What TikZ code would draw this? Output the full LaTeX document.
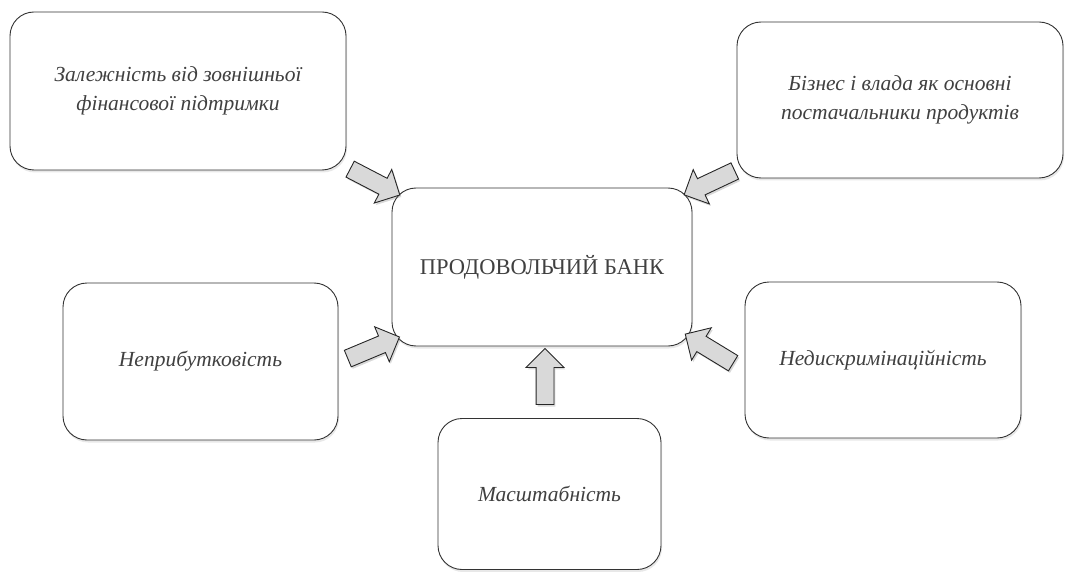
\documentclass[tikz,border=0pt]{standalone}
\usepackage{fontspec}
\setmainfont{Liberation Serif}
\usetikzlibrary{shapes.arrows,shadows}

\tikzset{
    boxnode/.style={draw=black!80, line width=0.9pt, rounded corners=24pt, fill=white,
        drop shadow={opacity=0.18, shadow xshift=1pt, shadow yshift=-2.5pt},
        align=center, text=black!75, font=\fontsize{21.5}{29}\selectfont\itshape},
    blockarrow/.style={single arrow, draw=black!85, line width=0.9pt, fill=gray!30,
        minimum height=56pt, single arrow head extend=10pt,
        inner xsep=0pt, inner ysep=8.5pt,
        drop shadow={opacity=0.3, shadow xshift=1.5pt, shadow yshift=-2pt}}
}

\begin{document}
\begin{tikzpicture}[x=1pt,y=-1pt]
            \useasboundingbox (0,0) rectangle (1065,572);

            \node[boxnode, minimum width=336pt, minimum height=158pt] (dep) at (178,91)
                {Залежність від зовнішньої\\фінансової підтримки};
            \node[boxnode, minimum width=326pt, minimum height=156pt] (biz) at (900,100)
                {Бізнес і влада як основні\\постачальники продуктів};
            \node[boxnode, minimum width=300pt, minimum height=158pt,
                font=\fontsize{22.5}{29}\selectfont] (bank) at (542,267) {ПРОДОВОЛЬЧИЙ БАНК};
            \node[boxnode, minimum width=275pt, minimum height=157pt] (nonprof) at (200.5,361.5)
                {Неприбутковість};
            \node[boxnode, minimum width=276pt, minimum height=156pt] (nondisc) at (883,360)
                {Недискримінаційність};
            \node[boxnode, minimum width=223pt, minimum height=151pt] (scale) at (549.5,494)
                {Масштабність};

            % tails and tips of the block arrows
            \coordinate (t1) at (346,167);  \coordinate (h1) at (396,193);
            \coordinate (t2) at (342,361);  \coordinate (h2) at (397,338);
            \coordinate (t3) at (545,410);  \coordinate (h3) at (545,352);
            \coordinate (t4) at (739,169);  \coordinate (h4) at (688,193);
            \coordinate (t5) at (736,365);  \coordinate (h5) at (690,337);

            \foreach \i in {1,...,5}
                {\path (t\i) -- (h\i) node[midway, sloped, allow upside down, blockarrow] (arr\i) {};}
\end{tikzpicture}
\end{document}
